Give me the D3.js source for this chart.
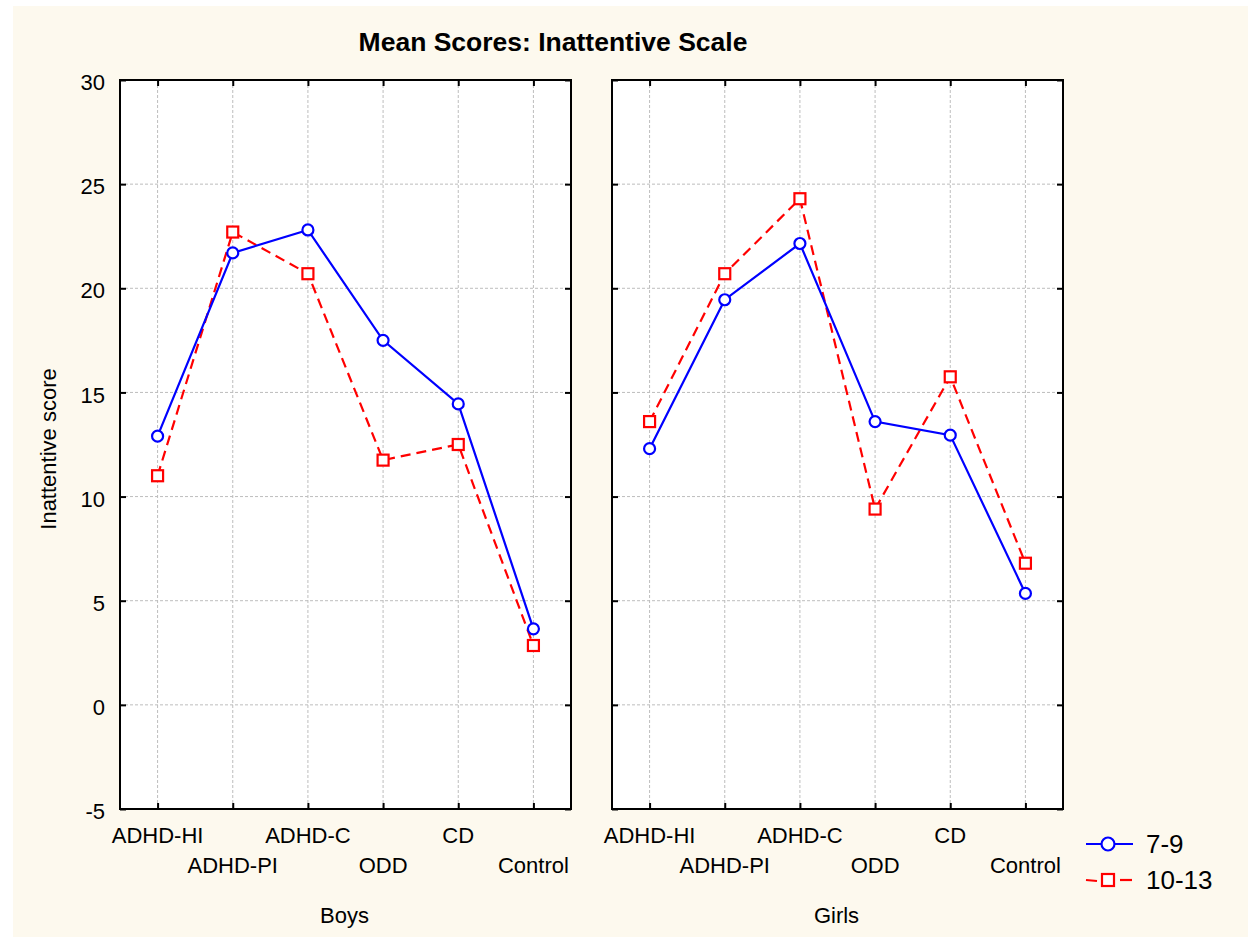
<!DOCTYPE html>
<html>
<head>
<meta charset="utf-8">
<script src="https://cdn.jsdelivr.net/npm/d3@7"></script>
<style>
  body { margin: 0; background: #ffffff; }
  svg { display: block; font-family: "Liberation Sans", Arial, sans-serif; }
</style>
</head>
<body>
<div id="chart"></div>
<script>
(function() {

    var w = 1248;
    var h = 937;

    // data
    var categories = ["ADHD-HI", "ADHD-PI", "ADHD-C", "ODD", "CD", "Control"];
    var boys79 = [12.9, 21.7, 22.8, 17.5, 14.45, 3.65];
    var boys1013 = [11.0, 22.7, 20.7, 11.75, 12.5, 2.85];
    var girls79 = [12.3, 19.45, 22.15, 13.6, 12.95, 5.35];
    var girls1013 = [13.6, 20.7, 24.3, 9.4, 15.75, 6.8];
    var yTicks = [-5, 0, 5, 10, 15, 20, 25, 30];
    var groups = ["7-9", "10-13"];

    var top = 80, bottom = 809;
    var panels = [
        { name: "Boys", x0: 120, x1: 571, s1: boys79, s2: boys1013 },
        { name: "Girls", x0: 612, x1: 1063, s1: girls79, s2: girls1013 }
    ];

    var blue = "#0000ff";
    var red = "#ff0000";

    var svg = d3.select("#chart").append("svg")
        .attr("width", w)
        .attr("height", h);

    // cream background
    svg.append("rect")
        .attr("x", 13).attr("y", 6)
        .attr("width", w - 13).attr("height", h - 6)
        .attr("fill", "#fdf9ee");

    var y = d3.scaleLinear().domain([-5, 30]).range([bottom, top]);

    svg.append("text")
        .attr("x", 553).attr("y", 51)
        .attr("text-anchor", "middle")
        .attr("font-size", 26.5)
        .attr("font-weight", "bold")
        .text("Mean Scores: Inattentive Scale");

    svg.append("text")
        .attr("transform", "translate(56,449) rotate(-90)")
        .attr("text-anchor", "middle")
        .attr("font-size", 22)
        .text("Inattentive score");

    panels.forEach(function(p, pi) {
        var x = d3.scalePoint().domain(categories).range([p.x0, p.x1]).padding(0.5);
        var g = svg.append("g");

        g.append("rect")
            .attr("x", p.x0).attr("y", top)
            .attr("width", p.x1 - p.x0).attr("height", bottom - top)
            .attr("fill", "#ffffff");

        // grid
        g.selectAll(".hgrid").data(yTicks).enter().append("line")
            .attr("x1", p.x0).attr("x2", p.x1)
            .attr("y1", function(d) { return y(d); })
            .attr("y2", function(d) { return y(d); })
            .attr("stroke", "#bdbdbd").attr("stroke-width", 1)
            .attr("stroke-dasharray", "3,2");
        g.selectAll(".vgrid").data(categories).enter().append("line")
            .attr("x1", function(d) { return x(d); })
            .attr("x2", function(d) { return x(d); })
            .attr("y1", top).attr("y2", bottom)
            .attr("stroke", "#bdbdbd").attr("stroke-width", 1)
            .attr("stroke-dasharray", "3,2");

        // inward ticks on all four sides
        var tl = 6;
        g.append("g").attr("transform", "translate(" + p.x0 + ",0)")
            .call(d3.axisRight(y).tickValues(yTicks).tickSize(tl).tickFormat(""));
        g.append("g").attr("transform", "translate(" + p.x1 + ",0)")
            .call(d3.axisLeft(y).tickValues(yTicks).tickSize(tl).tickFormat(""));
        g.append("g").attr("transform", "translate(0," + top + ")")
            .call(d3.axisBottom(x).tickSize(tl).tickFormat(""));
        g.append("g").attr("transform", "translate(0," + bottom + ")")
            .call(d3.axisTop(x).tickSize(tl).tickFormat(""));
        g.selectAll(".domain").remove();
        g.selectAll(".tick line").attr("stroke", "#000").attr("stroke-width", 2);

        g.append("rect")
            .attr("x", p.x0).attr("y", top)
            .attr("width", p.x1 - p.x0).attr("height", bottom - top)
            .attr("fill", "none").attr("stroke", "#000").attr("stroke-width", 2);

        // y tick labels only on the left panel
        if (pi === 0) {
            g.selectAll(".ylab").data(yTicks).enter().append("text")
                .attr("x", 105)
                .attr("y", function(d) { return y(d); })
                .attr("dy", "0.46em")
                .attr("text-anchor", "end")
                .attr("font-size", 22)
                .text(function(d) { return d; });
        }

        // category labels, staggered in two rows
        g.selectAll(".xlab").data(categories).enter().append("text")
            .attr("x", function(d) { return x(d); })
            .attr("y", function(d, i) { return i % 2 === 0 ? 843 : 873; })
            .attr("text-anchor", "middle")
            .attr("font-size", 22)
            .text(function(d) { return d; });

        g.append("text")
            .attr("x", (p.x0 + p.x1) / 2 - 1)
            .attr("y", 923)
            .attr("text-anchor", "middle")
            .attr("font-size", 22)
            .text(p.name);

        var line = d3.line()
            .x(function(d, i) { return x(categories[i]); })
            .y(function(d) { return y(d); });

        g.append("path").datum(p.s2)
            .attr("d", line)
            .attr("fill", "none").attr("stroke", red).attr("stroke-width", 2.2)
            .attr("stroke-dasharray", "10,6");
        g.append("path").datum(p.s1)
            .attr("d", line)
            .attr("fill", "none").attr("stroke", blue).attr("stroke-width", 2.2);

        g.selectAll(".sq").data(p.s2).enter().append("rect")
            .attr("x", function(d, i) { return x(categories[i]) - 5.5; })
            .attr("y", function(d) { return y(d) - 5.5; })
            .attr("width", 11).attr("height", 11)
            .attr("fill", "#fff").attr("stroke", red).attr("stroke-width", 2.2);
        g.selectAll(".ci").data(p.s1).enter().append("circle")
            .attr("cx", function(d, i) { return x(categories[i]); })
            .attr("cy", function(d) { return y(d); })
            .attr("r", 5.5)
            .attr("fill", "#fff").attr("stroke", blue).attr("stroke-width", 2.2);
    });

    // legend
    var lg = svg.append("g");
    groups.forEach(function(name, i) {
        var ly = 844 + i * 36;
        var col = i === 0 ? blue : red;
        if (i === 0) {
            lg.append("line").attr("x1", 1086).attr("x2", 1133)
                .attr("y1", ly).attr("y2", ly)
                .attr("stroke", col).attr("stroke-width", 2.2);
            lg.append("circle").attr("cx", 1108).attr("cy", ly).attr("r", 6.5)
                .attr("fill", "#fff").attr("stroke", col).attr("stroke-width", 2.2);
        } else {
            lg.append("line").attr("x1", 1086).attr("x2", 1097)
                .attr("y1", ly).attr("y2", ly + 1)
                .attr("stroke", col).attr("stroke-width", 2.2);
            lg.append("line").attr("x1", 1120).attr("x2", 1132)
                .attr("y1", ly).attr("y2", ly)
                .attr("stroke", col).attr("stroke-width", 2.2);
            lg.append("rect").attr("x", 1102).attr("y", ly - 6)
                .attr("width", 12).attr("height", 12)
                .attr("fill", "#fff").attr("stroke", col).attr("stroke-width", 2.2);
        }
        lg.append("text")
            .attr("x", 1146).attr("y", ly + 9)
            .attr("font-size", 26)
            .text(name);
    });

})();
</script>
</body>
</html>
